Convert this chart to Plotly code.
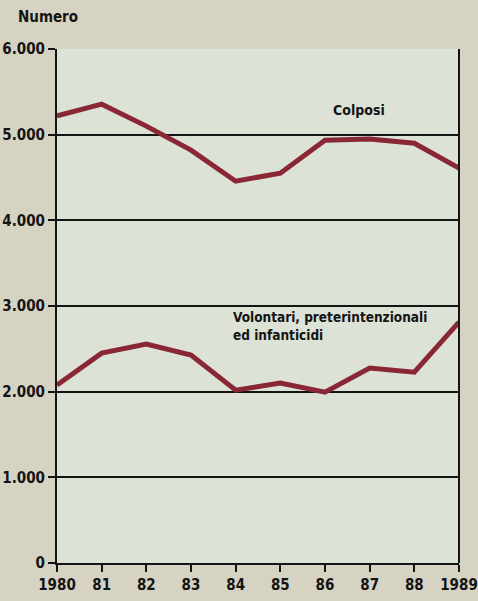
import plotly.graph_objects as go

years = [1980, 1981, 1982, 1983, 1984, 1985, 1986, 1987, 1988, 1989]
year_labels = ["1980", "81", "82", "83", "84", "85", "86", "87", "88", "1989"]
colposi = [5220, 5356, 5100, 4820, 4457, 4550, 4936, 4948, 4900, 4610]
volontari = [2077, 2450, 2555, 2427, 2018, 2100, 1995, 2275, 2228, 2812]
y_ticks = [0, 1000, 2000, 3000, 4000, 5000, 6000]
y_labels = ["0", "1.000", "2.000", "3.000", "4.000", "5.000", "6.000"]

LINE = "#8a2735"
INK = "#141414"
FONT = "DejaVu Sans Condensed, sans-serif"


def bold(labels):
    return ["<b>%s</b>" % s for s in labels]


fig = go.Figure()
for vals in (colposi, volontari):
    fig.add_trace(go.Scatter(
        x=years, y=vals, mode="lines",
        line=dict(color=LINE, width=5),
        hoverinfo="skip", showlegend=False, cliponaxis=False,
    ))

fig.add_annotation(x=1986.75, y=5170, text="<b>Colposi</b>", showarrow=False,
                   xanchor="center", yanchor="bottom",
                   font=dict(family=FONT, size=14, color=INK))
fig.add_annotation(x=1983.9, y=2540,
                   text="<b>Volontari, preterintenzionali<br>ed infanticidi</b>",
                   showarrow=False, xanchor="left", yanchor="bottom", align="left",
                   font=dict(family=FONT, size=13.5, color=INK))
fig.add_annotation(xref="paper", yref="paper", x=-0.102, y=1.04, text="<b>Numero</b>",
                   showarrow=False, xanchor="left", yanchor="bottom",
                   font=dict(family=FONT, size=15, color=INK))

fig.update_xaxes(
    range=[1980, 1989], tickvals=years, ticktext=bold(year_labels),
    showline=True, linecolor=INK, linewidth=2,
    ticks="outside", ticklen=7, tickwidth=2, tickcolor=INK,
    showgrid=False, zeroline=False, automargin=False,
    tickfont=dict(family=FONT, size=15, color=INK),
)
fig.update_yaxes(
    range=[0, 6000], tickvals=y_ticks, ticktext=bold(y_labels),
    showline=True, linecolor=INK, linewidth=2,
    ticks="outside", ticklen=7, tickwidth=2, tickcolor=INK,
    showgrid=True, gridcolor=INK, gridwidth=2, zeroline=False, automargin=False,
    tickfont=dict(family=FONT, size=15, color=INK),
)

# right-hand frame edge
fig.add_shape(type="line", xref="paper", yref="paper", x0=1, x1=1, y0=0, y1=1,
              line=dict(color=INK, width=2))

fig.update_layout(
    width=478, height=601,
    margin=dict(l=57, r=19, t=49, b=38),
    paper_bgcolor="#d7d3c3",
    plot_bgcolor="#dde2d6",
    font=dict(family=FONT, color=INK),
)

fig.write_html("out.html")
